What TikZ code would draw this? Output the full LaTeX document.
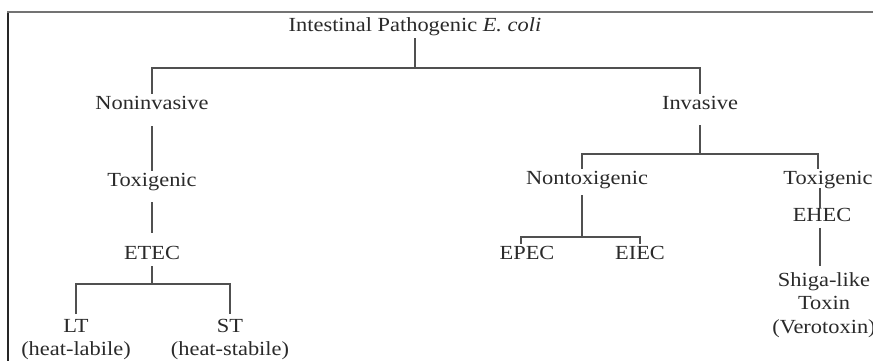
\documentclass[tikz,border=0pt]{standalone}
\usepackage{fontspec}
\setmainfont{Liberation Serif}[FakeStretch=1.12]
\definecolor{txt}{HTML}{2A2A2A}
\definecolor{ln}{HTML}{505050}
\begin{document}
\begin{tikzpicture}[x=1pt,y=-1pt,
  lbl/.style={inner xsep=0pt, inner ysep=3pt, text height=12pt, text depth=4pt,
              font=\fontsize{20}{24}\selectfont, text=txt},
  multi/.style={inner sep=0pt, align=center, font=\fontsize{20}{23.5}\selectfont, text=txt},
  conn/.style={draw=ln, line width=1.4pt}]
\useasboundingbox (0,0) rectangle (873,360);
\clip (0,0) rectangle (873,360);
\fill[white] (0,0) rectangle (873,360);
% frame
\draw[line width=1.6pt, draw=black!85] (8,361) -- (8,12);
\draw[line width=1.5pt, draw=black!55] (7.2,12) -- (874,12);
% nodes
\node[lbl] (title) at (415,27) {Intestinal Pathogenic \textit{E. coli}};
\node[lbl] (nonin) at (152,105) {Noninvasive};
\node[lbl] (inv) at (700,105) {Invasive};
\node[lbl] (tox1) at (152,182) {Toxigenic};
\node[lbl] (etec) at (152,255) {ETEC};
\node[multi, anchor=north] (lt) at (76,319) {LT\\(heat-labile)};
\node[multi, anchor=north] (st) at (230,319) {ST\\(heat-stabile)};
\node[lbl] (nontox) at (587,180) {Nontoxigenic};
\node[lbl] (tox2) at (828,180) {Toxigenic};
\node[lbl] (epec) at (527,255) {EPEC};
\node[lbl] (eiec) at (640,255) {EIEC};
\node[lbl] (ehec) at (822,217) {EHEC};
\node[multi, anchor=north] (shiga) at (824,272) {Shiga-like\\Toxin\\(Verotoxin)};
% junctions
\coordinate (j1) at (415,68);
\coordinate (j2) at (700,154);
\coordinate (j3) at (152,284);
\coordinate (j4) at (582,237);
% connectors
\draw[conn] (title.south) -- (j1);
\draw[conn] (nonin.north) |- (j1) -| (inv.north);
\draw[conn, shorten <=10pt] (nonin.south) -- (tox1.north);
\draw[conn, shorten <=9pt, shorten >=11pt] (tox1.south) -- (etec.north);
\draw[conn] (etec.south) -- (j3);
\draw[conn, shorten <=5pt, shorten >=5pt] (lt.north) |- (j3) -| (st.north);
\draw[conn, shorten <=9pt] (inv.south) -- (j2);
\draw[conn] ([xshift=-5pt]nontox.north) |- (j2) -| ([xshift=-10pt]tox2.north);
\draw[conn, shorten <=4pt] ([xshift=-5pt]nontox.south) -- (j4);
\draw[conn] ([xshift=-6pt]epec.north) |- (j4) -| (eiec.north);
\draw[conn, shorten <=-3pt, shorten >=-2pt] ([xshift=-8pt]tox2.south) -- ([xshift=-2pt]ehec.north);
\draw[conn, shorten >=6pt] ([xshift=-2pt]ehec.south) -- ([xshift=-2pt]ehec.south |- shiga.north);
\end{tikzpicture}
\end{document}
